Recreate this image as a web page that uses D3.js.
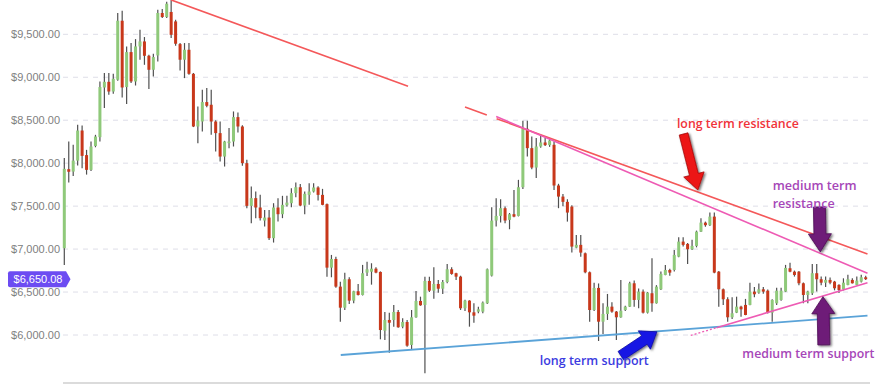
<!DOCTYPE html>
<html><head><meta charset="utf-8">
<script src="https://cdn.jsdelivr.net/npm/d3@7"></script>
<style>html,body{margin:0;padding:0;background:#fff;overflow:hidden}</style>
</head><body>
<svg id="chart" width="884" height="384"></svg>
<script>
const opens = [7010,7930,7902,8030,8380,8094,7922,8200,8303,8881,
8947,8834,8971,9658,8886,9293,8951,9359,9417,9250,
9087,9254,9748,9701,9760,9650,9386,9204,9320,9040,
8427,8485,8711,8680,8485,8350,8077,8233,8252,8536,
8427,8000,7503,7593,7484,7332,7367,7127,7484,7406,
7511,7534,7651,7720,7507,7631,7670,7717,7631,7523,
6784,6885,6563,6318,6649,6400,6509,6466,6726,6737,
6772,6734,6050,6175,6175,6268,6097,6151,5884,6206,
6396,6350,6629,6516,6594,6539,6617,6765,6719,6679,
6311,6400,6264,6272,6272,6369,6691,7332,7386,7476,
7340,7406,7386,7720,8400,8175,7949,8194,8241,8210,
8214,7740,7611,7550,7495,7017,7049,6951,6730,6291,
6548,6155,6245,6330,6272,6206,6291,6330,6602,6408,
6505,6260,6486,6369,6532,6699,6757,6757,6912,7087,
7060,6998,7037,7203,7308,7278,7378,6737,6532,6416,
6206,6260,6330,6350,6350,6505,6493,6532,6516,6260,
6369,6408,6505,6777,6737,6737,6602,6466,6486,6719,
6649,6609,6641,6621,6583,6532,6583,6641,6583,6621,
6672];
const highs = [8060,8252,8213,8446,8438,8155,8252,8330,8951,9049,
9049,9041,9748,9775,9359,9398,9444,9553,9468,9262,
9274,9786,9794,9880,9900,9670,9398,9398,9398,9050,
8660,8854,8874,8854,8500,8485,8260,8408,8602,8590,
8440,8039,7728,7670,7631,7456,7456,7534,7593,7620,
7620,7709,7774,7759,7670,7767,7767,7730,7701,7530,
6932,6912,6621,6726,6672,6515,6594,6816,6854,6835,
6789,6740,6268,6260,6350,6291,6195,6175,6291,6513,
6446,6679,6679,6789,6641,6641,6827,6789,6725,6690,
6410,6405,6369,6330,6390,6775,7487,7593,7581,7495,
7420,7689,7806,8493,8493,8310,8292,8330,8292,8292,
8252,7760,7640,7580,7510,7165,7165,6960,6740,6609,
6600,6369,6478,6380,6280,6641,6340,6621,6633,6540,
6530,6500,6893,6580,6740,6816,6770,6990,7138,7138,
7070,7110,7215,7360,7320,7425,7425,6745,6540,6440,
6439,6446,6340,6420,6609,6560,6600,6560,6530,6415,
6550,6550,6816,6842,6750,6745,6610,6515,6827,6827,
6680,6680,6670,6630,6590,6660,6700,6660,6680,6700,
6690];
const lows = [6815,7774,7852,7972,7942,7867,7910,8185,8252,8641,
8796,8808,8960,8765,8688,8932,8904,9204,9145,8862,
9009,9184,9690,9690,9456,9367,9079,8990,9030,8420,
8233,8369,8650,8330,8136,8019,7961,8175,8194,8357,
7969,7476,7301,7360,7332,7262,7107,7076,7320,7360,
7495,7487,7604,7500,7406,7515,7658,7565,7510,6679,
6672,6550,6155,6291,6361,6369,6460,6460,6687,6586,
6720,5950,5942,5794,6097,6085,6078,5864,5825,6200,
6340,5554,6501,6423,6493,6478,6602,6700,6641,6291,
6280,6097,6143,6253,6253,6360,6680,7262,7308,7301,
7231,7370,7380,7700,8077,7930,7826,8180,8200,8190,
7689,7476,7500,7320,6959,7010,6912,6720,6155,6280,
5930,6012,6175,6260,5942,6200,6280,6325,6330,6311,
6250,6250,6272,6365,6525,6695,6690,6740,6905,7030,
6827,6990,7020,7200,7260,7270,6720,6330,6350,6155,
6186,6255,6213,6230,6345,6440,6480,6480,6250,6155,
6350,6400,6500,6730,6680,6580,6369,6369,6466,6505,
6580,6560,6590,6520,6490,6520,6580,6600,6580,6610,
6640];
const closes = [7934,7900,8030,8380,8085,7922,8194,8310,8886,8947,
8834,8982,9658,8881,9293,8951,9359,9417,9250,9087,
9235,9748,9701,9856,9494,9390,9204,9320,9040,8427,
8496,8711,8668,8485,8350,8077,8252,8252,8536,8427,
8000,7503,7593,7484,7360,7367,7127,7484,7406,7515,
7541,7651,7720,7507,7643,7670,7717,7631,7515,6784,
6885,6563,6318,6649,6400,6509,6466,6719,6765,6772,
6726,6058,6175,6143,6268,6090,6151,5876,6206,6396,
6346,6629,6516,6594,6539,6617,6765,6711,6679,6311,
6400,6264,6225,6299,6377,6765,7332,7386,7476,7332,
7406,7378,7720,8400,8175,7949,8194,8241,8210,8264,
7740,7611,7550,7425,7029,7049,6959,6730,6291,6548,
6155,6245,6330,6272,6206,6283,6330,6602,6408,6505,
6260,6493,6369,6563,6711,6757,6726,6932,7087,7049,
6998,7037,7203,7308,7278,7378,6726,6532,6416,6206,
6253,6330,6299,6233,6505,6474,6532,6505,6260,6408,
6516,6516,6781,6737,6699,6602,6466,6505,6719,6649,
6609,6641,6609,6544,6524,6609,6649,6602,6633,6672,
6650];
const yTicks = [6000,6500,7000,7500,8000,8500,9000,9500];
const lastPrice = 6650.08;

// trend lines in (candle index, price)
const longResistance = [[24, 9900], [180.4, 6944]];
const longResistanceVisible = [[24, 77.2], [90, 94.9], [97.1, 180.4]];
const mediumResistance = [[97.0, 8543], [180.4, 6719]];
const longSupport = [[62.1, 5767], [180.4, 6225]];
const mediumSupport = [[146.5, 6085], [180.4, 6609]];
const mediumSupportDashed = [[140.7, 5995], [146.5, 6085]];

const labels = [
  {text: "long term resistance", at: [137.6, 8410], color: "#f0323a", len: 122},
  {text: "medium term", at: [159.1, 7688], color: "#a646b8", len: 84},
  {text: "resistance", at: [159.1, 7479], color: "#a646b8", len: 62},
  {text: "long term support", at: [106.8, 5650], color: "#3b3be0", len: 109},
  {text: "medium term support", at: [152.3, 5735], color: "#a646b8", len: 132}
];
const arrows = [
  {from: [139.1, 8340], to: [142.3, 7688], color: "#ec1313", sw: 9, hw: 21, hl: 16},
  {from: [169.6, 7490], to: [169.8, 6967], color: "#6e1a78", sw: 12, hw: 23, hl: 18},
  {from: [170.6, 5885], to: [170.4, 6446], color: "#6e1a78", sw: 12, hw: 23, hl: 17},
  {from: [125.0, 5760], to: [133.1, 6038], color: "#1616e4", sw: 10, hw: 22, hl: 15}
];

const svg = d3.select("#chart");
const x = d3.scaleLinear().domain([0, opens.length - 1]).range([64.3, 865.7]);
const y = d3.scaleLinear().domain([6000, 9500]).range([335, 34.3]);

const defs = svg.append("defs");
const f = defs.append("filter").attr("id", "shadow").attr("x", "-50%").attr("y", "-50%").attr("width", "200%").attr("height", "200%");
f.append("feDropShadow").attr("dx", 1.5).attr("dy", 1.2).attr("stdDeviation", 0.9)
  .attr("flood-color", "#000").attr("flood-opacity", 0.55);

// gridlines
svg.append("g").selectAll("line").data(yTicks).join("line")
  .attr("x1", 63).attr("x2", 870)
  .attr("y1", d => y(d)).attr("y2", d => y(d))
  .attr("stroke", "#dedee8").attr("stroke-width", 1).attr("stroke-dasharray", "5,5");

// bottom axis line
svg.append("line").attr("x1", 63).attr("x2", 870).attr("y1", 383).attr("y2", 383)
  .attr("stroke", "#cfcfcf").attr("stroke-width", 1.5);

// y axis
const ya = svg.append("g").attr("transform", "translate(63,0)")
  .call(d3.axisLeft(y).tickValues(yTicks).tickFormat(d3.format("$,.2f")).tickSize(0).tickPadding(3));
ya.select(".domain").remove();
ya.selectAll("text").attr("fill", "#808080").attr("font-family", "'Liberation Sans', Arial, sans-serif").attr("font-size", 11);

// candles
const candles = d3.range(opens.length).map(i => ({i, o: opens[i], h: highs[i], l: lows[i], c: closes[i]}));
const cg = svg.append("g");
cg.selectAll("line").data(candles).join("line")
  .attr("x1", d => x(d.i)).attr("x2", d => x(d.i))
  .attr("y1", d => y(d.h)).attr("y2", d => y(d.l))
  .attr("stroke", "#505050").attr("stroke-width", 1.2);
cg.selectAll("rect").data(candles).join("rect")
  .attr("x", d => x(d.i) - 1.5).attr("width", 3)
  .attr("y", d => y(Math.max(d.o, d.c)))
  .attr("height", d => Math.max(1.5, Math.abs(y(d.o) - y(d.c))))
  .attr("fill", d => d.c >= d.o ? "#8fc97a" : "#c8381b");

// trend lines
function lineAt(seg, t) {
  const [a, b] = seg;
  return a[1] + (b[1] - a[1]) * (t - a[0]) / (b[0] - a[0]);
}
const tl = svg.append("g").attr("fill", "none");
longResistanceVisible.forEach(r => {
  tl.append("line").attr("x1", x(r[0])).attr("y1", y(lineAt(longResistance, r[0])))
    .attr("x2", x(r[1])).attr("y2", y(lineAt(longResistance, r[1])))
    .attr("stroke", "#f4585a").attr("stroke-width", 1.6);
});
function seg(s, color, w, dash) {
  const l = tl.append("line").attr("x1", x(s[0][0])).attr("y1", y(s[0][1]))
    .attr("x2", x(s[1][0])).attr("y2", y(s[1][1]))
    .attr("stroke", color).attr("stroke-width", w);
  if (dash) l.attr("stroke-dasharray", dash);
}
seg(mediumResistance, "#ee5bb4", 1.6);
seg(longSupport, "#5aa3d8", 1.8);
seg(mediumSupport, "#ee5bb4", 1.6);
seg(mediumSupportDashed, "#ee5bb4", 1.3, "2,2");

// arrows
function arrowPath(tail, tip, sw, hw, hl) {
  const dx = tip[0] - tail[0], dy = tip[1] - tail[1];
  const L = Math.hypot(dx, dy), ux = dx / L, uy = dy / L, nx = -uy, ny = ux;
  const bx = tip[0] - ux * hl, by = tip[1] - uy * hl;
  const p = d3.path();
  p.moveTo(tail[0] + nx * sw / 2, tail[1] + ny * sw / 2);
  p.lineTo(bx + nx * sw / 2, by + ny * sw / 2);
  p.lineTo(bx + nx * hw / 2, by + ny * hw / 2);
  p.lineTo(tip[0], tip[1]);
  p.lineTo(bx - nx * hw / 2, by - ny * hw / 2);
  p.lineTo(bx - nx * sw / 2, by - ny * sw / 2);
  p.lineTo(tail[0] - nx * sw / 2, tail[1] - ny * sw / 2);
  p.closePath();
  return p.toString();
}
svg.append("g").selectAll("path").data(arrows).join("path")
  .attr("d", d => arrowPath([x(d.from[0]), y(d.from[1])], [x(d.to[0]), y(d.to[1])], d.sw, d.hw, d.hl))
  .attr("fill", d => d.color).attr("stroke", d => d3.color(d.color).darker(1)).attr("stroke-width", 0.8)
  .attr("stroke-linejoin", "round").attr("filter", "url(#shadow)");

// labels
svg.append("g").selectAll("text").data(labels).join("text")
  .attr("x", d => x(d.at[0])).attr("y", d => y(d.at[1]))
  .attr("fill", d => d.color)
  .attr("font-family", "'Open Sans', sans-serif").attr("font-weight", 600).attr("font-size", 13)
  .attr("textLength", d => d.len).attr("lengthAdjust", "spacingAndGlyphs")
  .text(d => d.text);

// price tag
const py = y(lastPrice);
const tag = svg.append("g");
tag.append("path")
  .attr("d", `M10,${py - 8} L66,${py - 8} L70.5,${py} L66,${py + 8} L10,${py + 8} Q8,${py + 8} 8,${py + 6} L8,${py - 6} Q8,${py - 8} 10,${py - 8} Z`)
  .attr("fill", "#6c4cf2");
tag.append("text").attr("x", 38).attr("y", py + 4).attr("text-anchor", "middle")
  .attr("fill", "#fff").attr("font-family", "'Liberation Sans', Arial, sans-serif").attr("font-size", 11)
  .text(d3.format("$,.2f")(lastPrice));
</script>
</body></html>
